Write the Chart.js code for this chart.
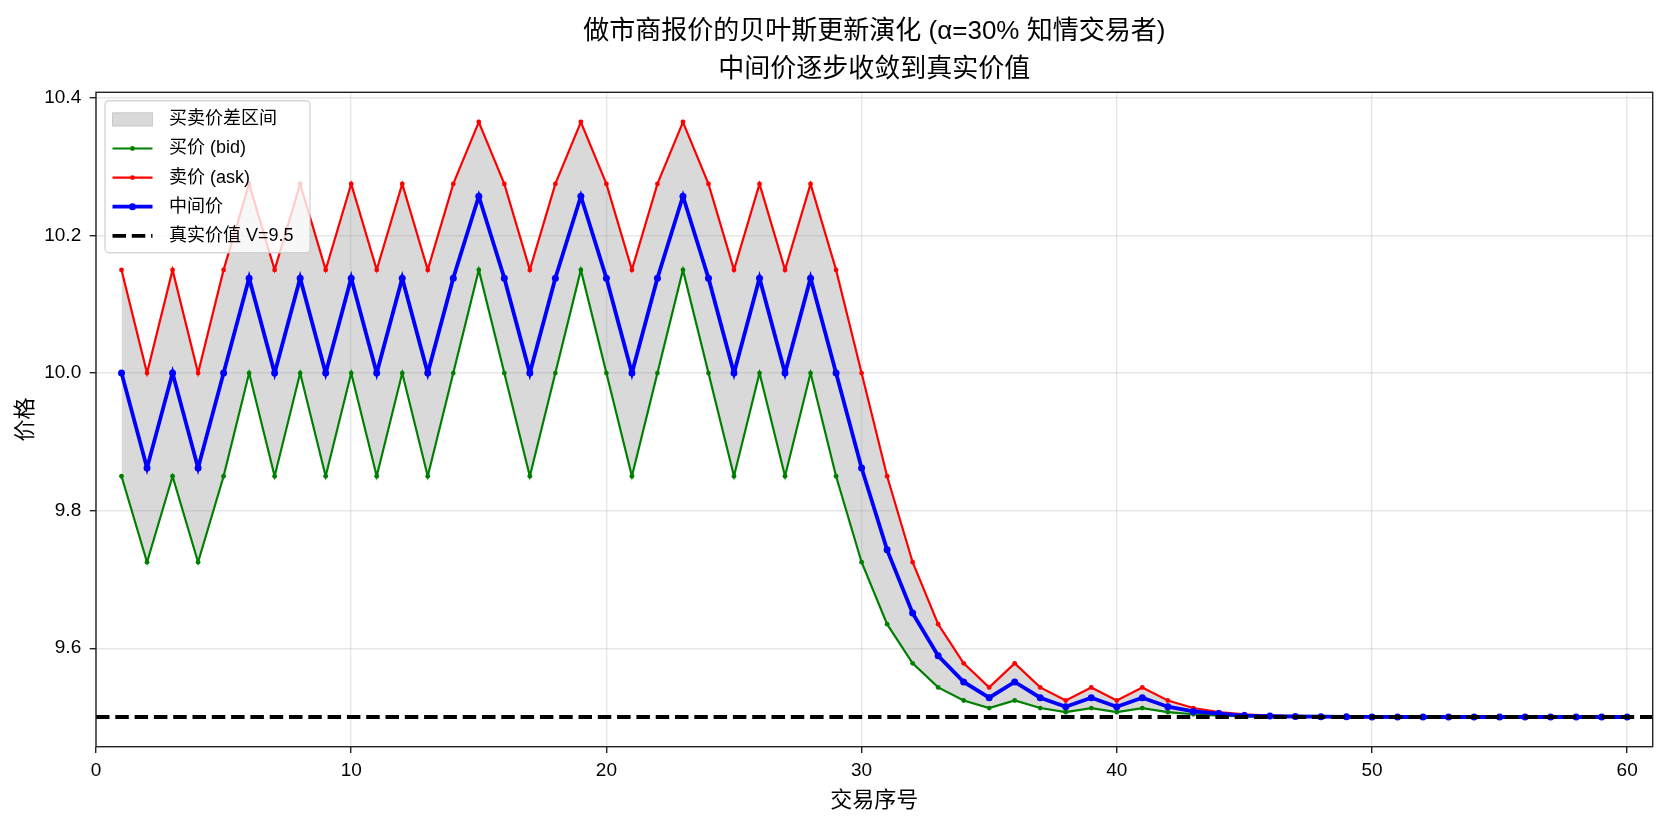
<!DOCTYPE html>
<html>
<head>
<meta charset="utf-8">
<script src="https://cdn.jsdelivr.net/npm/chart.js@4.4.1/dist/chart.umd.min.js"></script>
<style>
html, body { margin: 0; padding: 0; background: #fff; }
canvas { display: block; }
</style>
</head>
<body>
<canvas id="chart" width="1667" height="825"></canvas>
<script>
// data
const tradeNo = [1, 2, 3, 4, 5, 6, 7, 8, 9, 10,
    11, 12, 13, 14, 15, 16, 17, 18, 19, 20,
    21, 22, 23, 24, 25, 26, 27, 28, 29, 30,
    31, 32, 33, 34, 35, 36, 37, 38, 39, 40,
    41, 42, 43, 44, 45, 46, 47, 48, 49, 50,
    51, 52, 53, 54, 55, 56, 57, 58, 59, 60];

const bidPrice = [9.85, 9.725, 9.85, 9.725, 9.85, 10.0, 9.85, 10.0, 9.85, 10.0,
    9.85, 10.0, 9.85, 10.0, 10.15, 10.0, 9.85, 10.0, 10.15, 10.0,
    9.85, 10.0, 10.15, 10.0, 9.85, 10.0, 9.85, 10.0, 9.85, 9.725,
    9.635, 9.578, 9.543, 9.524, 9.513, 9.524, 9.513, 9.507, 9.513, 9.507,
    9.513, 9.507, 9.504, 9.502, 9.501, 9.5006, 9.5003, 9.5002, 9.5001, 9.5,
    9.5, 9.5, 9.5, 9.5, 9.5, 9.5, 9.5, 9.5, 9.5, 9.5];

const askPrice = [10.15, 10.0, 10.15, 10.0, 10.15, 10.275, 10.15, 10.275, 10.15, 10.275,
    10.15, 10.275, 10.15, 10.275, 10.365, 10.275, 10.15, 10.275, 10.365, 10.275,
    10.15, 10.275, 10.365, 10.275, 10.15, 10.275, 10.15, 10.275, 10.15, 10.0,
    9.85, 9.725, 9.635, 9.578, 9.543, 9.578, 9.543, 9.524, 9.543, 9.524,
    9.543, 9.524, 9.513, 9.507, 9.504, 9.502, 9.501, 9.5006, 9.5003, 9.5002,
    9.5001, 9.5, 9.5, 9.5, 9.5, 9.5, 9.5, 9.5, 9.5, 9.5];

const midPrice = [10.0, 9.862, 10.0, 9.862, 10.0, 10.138, 10.0, 10.138, 10.0, 10.138,
    10.0, 10.138, 10.0, 10.138, 10.257, 10.138, 10.0, 10.138, 10.257, 10.138,
    10.0, 10.138, 10.257, 10.138, 10.0, 10.138, 10.0, 10.138, 10.0, 9.862,
    9.743, 9.651, 9.589, 9.551, 9.528, 9.551, 9.528, 9.515, 9.528, 9.515,
    9.528, 9.515, 9.508, 9.505, 9.502, 9.5013, 9.5007, 9.5004, 9.5002, 9.5001,
    9.5, 9.5, 9.5, 9.5, 9.5, 9.5, 9.5, 9.5, 9.5, 9.5];

const trueValue = 9.5;

const xRange = [0, 61];
const yRange = [9.4568, 10.4082];
const xTicks = [0, 10, 20, 30, 40, 50, 60];
const yTicks = [9.6, 9.8, 10.0, 10.2, 10.4];

const titleLines = ['做市商报价的贝叶斯更新演化 (α=30% 知情交易者)', '中间价逐步收敛到真实价值'];
const xTitle = '交易序号';
const yTitle = '价格';

const FONT = "'Liberation Sans', 'Noto Sans CJK SC', sans-serif";

function pts(values) {
    return tradeNo.map((x, i) => ({ x: x, y: values[i] }));
}

// frame on top of the lines, then a matplotlib-like legend
const frameLegend = {
    id: 'frameLegend',
    afterDatasetsDraw(chart) {
        const { ctx, chartArea: a } = chart;
        ctx.save();
        ctx.strokeStyle = '#222';
        ctx.lineWidth = 1.4;
        ctx.strokeRect(a.left, a.top, a.right - a.left, a.bottom - a.top);

        const bx = a.left + 9, by = a.top + 8.5, bw = 205, bh = 152, rowH = 29.1;
        ctx.beginPath();
        ctx.roundRect(bx, by, bw, bh, 4);
        ctx.fillStyle = 'rgba(255,255,255,0.8)';
        ctx.fill();
        ctx.strokeStyle = 'rgba(204,204,204,0.8)';
        ctx.lineWidth = 1.4;
        ctx.stroke();

        ctx.font = '18px ' + FONT;
        ctx.textBaseline = 'middle';
        ctx.textAlign = 'left';
        chart.data.datasets.forEach((ds, i) => {
            const cy = by + 18.6 + i * rowH;
            const x0 = bx + 7.5, x1 = x0 + 40;
            if (ds.fill !== undefined && ds.fill !== false) {
                ctx.fillStyle = ds.backgroundColor;
                ctx.fillRect(x0, cy - 6.7, 40, 13.4);
                ctx.strokeStyle = ds.backgroundColor;
                ctx.lineWidth = 1;
                ctx.strokeRect(x0, cy - 6.7, 40, 13.4);
            } else {
                ctx.strokeStyle = ds.borderColor;
                ctx.lineWidth = ds.borderWidth;
                ctx.setLineDash(ds.borderDash || []);
                ctx.beginPath();
                ctx.moveTo(x0, cy);
                ctx.lineTo(x1, cy);
                ctx.stroke();
                ctx.setLineDash([]);
                if (ds.pointRadius > 0) {
                    ctx.fillStyle = ds.borderColor;
                    ctx.beginPath();
                    ctx.arc((x0 + x1) / 2, cy, ds.pointRadius, 0, Math.PI * 2);
                    ctx.fill();
                }
            }
            ctx.fillStyle = '#000';
            ctx.fillText(ds.label, bx + 64, cy);
        });
        ctx.restore();
    }
};

Chart.defaults.color = '#000';
Chart.defaults.font.family = FONT;

const chart = new Chart(document.getElementById('chart'), {
    type: 'line',
    data: {
        datasets: [{
            label: '买卖价差区间',
            data: pts(bidPrice),
            fill: 2,
            backgroundColor: 'rgba(128,128,128,0.3)',
            borderColor: 'rgba(0,0,0,0)',
            borderWidth: 0,
            pointRadius: 0,
            order: 5
        }, {
            label: '买价 (bid)',
            data: pts(bidPrice),
            borderColor: 'green',
            backgroundColor: 'green',
            borderWidth: 2.2,
            pointRadius: 2.4,
            pointBorderWidth: 0,
            fill: false,
            order: 4
        }, {
            label: '卖价 (ask)',
            data: pts(askPrice),
            borderColor: 'red',
            backgroundColor: 'red',
            borderWidth: 2.2,
            pointRadius: 2.4,
            pointBorderWidth: 0,
            fill: false,
            order: 3
        }, {
            label: '中间价',
            data: pts(midPrice),
            borderColor: 'blue',
            backgroundColor: 'blue',
            borderWidth: 3.8,
            pointRadius: 3.5,
            pointBorderWidth: 0,
            fill: false,
            order: 2
        }, {
            label: '真实价值 V=' + trueValue,
            data: [{ x: xRange[0], y: trueValue }, { x: xRange[1], y: trueValue }],
            borderColor: '#000',
            borderWidth: 3.8,
            borderDash: [13.5, 5.8],
            pointRadius: 0,
            fill: false,
            order: 1
        }]
    },
    options: {
        responsive: false,
        animation: false,
        devicePixelRatio: 1,
        layout: { padding: { top: 0, right: 14.3, left: 0, bottom: 0 } },
        elements: { line: { tension: 0 } },
        plugins: {
            legend: { display: false },
            tooltip: { enabled: false },
            title: {
                display: true,
                fullSize: false,
                text: titleLines,
                color: '#000',
                font: { size: 26, weight: 'normal', lineHeight: 1.45 },
                padding: { top: 13.4, bottom: 3.5 }
            }
        },
        scales: {
            x: {
                type: 'linear',
                min: xRange[0],
                max: xRange[1],
                afterBuildTicks: s => { s.ticks = xTicks.map(v => ({ value: v })); },
                afterFit: s => { s.height = 78.3; },
                ticks: {
                    autoSkip: false,
                    maxRotation: 0,
                    padding: 6.6,
                    font: { size: 19 },
                    callback: v => String(v)
                },
                grid: {
                    color: 'rgba(176,176,176,0.3)',
                    lineWidth: 1.4,
                    tickColor: '#222',
                    tickLength: 6.3,
                    tickWidth: 1.4
                },
                border: { display: false },
                title: {
                    display: true,
                    text: xTitle,
                    font: { size: 22 },
                    padding: { top: 0, bottom: 11 }
                }
            },
            y: {
                type: 'linear',
                min: yRange[0],
                max: yRange[1],
                afterBuildTicks: s => { s.ticks = yTicks.map(v => ({ value: v })); },
                afterFit: s => { s.width = 96; },
                ticks: {
                    autoSkip: false,
                    padding: 8.5,
                    font: { size: 19 },
                    callback: v => v.toFixed(1)
                },
                grid: {
                    color: 'rgba(176,176,176,0.3)',
                    lineWidth: 1.4,
                    tickColor: '#222',
                    tickLength: 6.3,
                    tickWidth: 1.4
                },
                border: { display: false },
                title: {
                    display: true,
                    text: yTitle,
                    font: { size: 22 },
                    padding: { top: 12.8, bottom: 0 }
                }
            }
        }
    },
    plugins: [frameLegend]
});
</script>
</body>
</html>
